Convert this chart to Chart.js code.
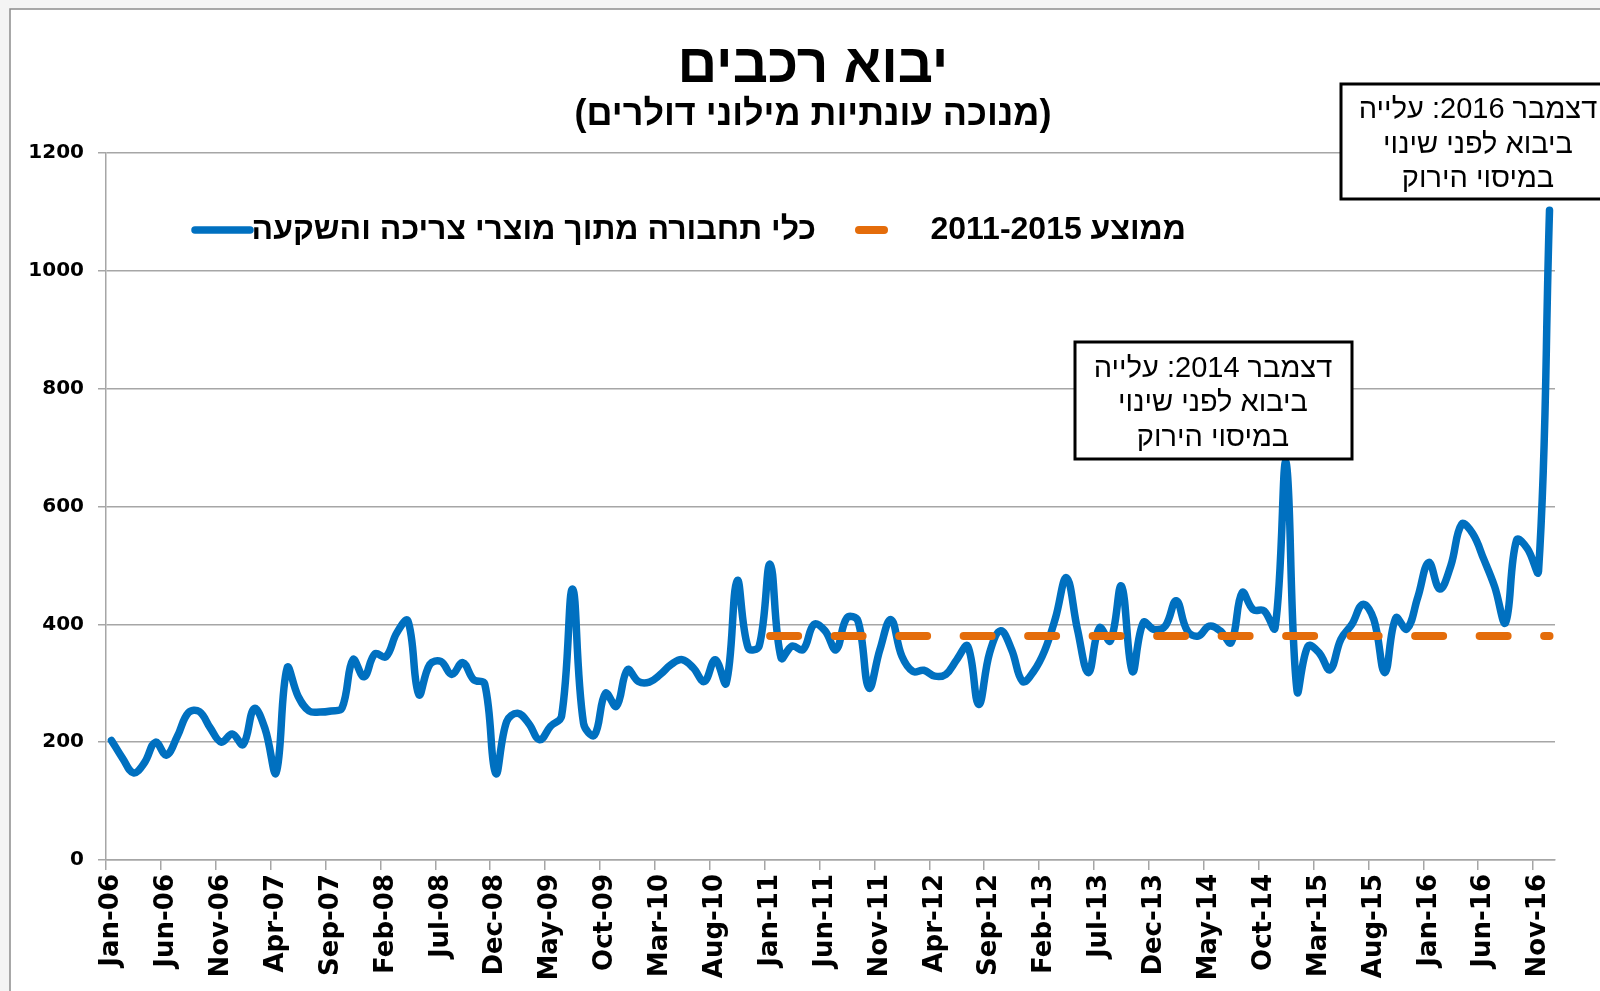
<!DOCTYPE html>
<html>
<head>
<meta charset="utf-8">
<script src="https://cdn.jsdelivr.net/npm/chart.js@4.4.1/dist/chart.umd.min.js"></script>
<style>
html,body{margin:0;padding:0;background:#fff;}
#wrap{position:relative;width:1600px;height:991px;overflow:hidden;}
canvas{display:block;}
</style>
</head>
<body>
<div id="wrap"><canvas id="c" width="1600" height="991"></canvas></div>
<script>
// ---------- DATA ----------
const monthNames = ['Jan','Feb','Mar','Apr','May','Jun','Jul','Aug','Sep','Oct','Nov','Dec'];
const yearSuffixes = ['06','07','08','09','10','11','12','13','14','15','16'];
const categories = [];
for (const y of yearSuffixes) for (const m of monthNames) categories.push(m + '-' + y);

// Monthly vehicle imports, seasonally adjusted, $ millions (Jan-06 .. Dec-16)
const importValues = [
  203,173,148,165,200,178,210,250,252,224,200,214,   // 2006
  196,257,222,148,326,278,253,251,253,258,340,311,   // 2007
  350,345,386,406,281,332,337,315,335,306,299,147,   // 2008
  235,249,232,204,227,244,460,232,212,283,261,323,   // 2009
  303,302,315,332,340,326,303,340,300,474,360,363,   // 2010
  502,343,363,357,400,389,357,411,406,292,357,408,   // 2011
  346,320,322,312,315,340,363,264,352,389,357,303,   // 2012
  320,355,411,479,391,318,394,372,465,320,403,391,   // 2013
  397,440,389,380,397,389,369,454,425,423,394,675,   // 2014
  287,363,352,323,375,400,434,408,318,411,392,446,   // 2015
  505,460,499,570,554,511,464,403,543,528,490,1103   // 2016
];

const avgValue = 380;          // 2011-2015 average
const avgStart = 'Jan-11';
const avgEnd = 'Dec-16';

const yTickValues = [0, 200, 400, 600, 800, 1000, 1200];

const titleText = 'יבוא רכבים';
const subtitleText = '(מנוכה עונתיות מילוני דולרים)';
const seriesLabels = ['כלי תחבורה מתוך מוצרי צריכה והשקעה', 'ממוצע 2011-2015'];
const noteLines2014 = ['דצמבר 2014: עלייה', 'ביבוא לפני שינוי', 'במיסוי הירוק'];
const noteLines2016 = ['דצמבר 2016: עלייה', 'ביבוא לפני שינוי', 'במיסוי הירוק'];

// ---------- STYLE ----------
const BLUE = '#0070C0';
const ORANGE = '#E46C0A';
const GRID = '#A6A6A6';
const HEB = '"Liberation Sans", Arial, sans-serif';
const AX = '"DejaVu Sans", Verdana, sans-serif';

const decorPlugin = {
  id: 'decor',
  beforeDraw(chart) {
    const ctx = chart.ctx;
    ctx.save();
    ctx.fillStyle = '#f4f4f4';
    ctx.fillRect(0, 0, chart.width, chart.height);
    ctx.fillStyle = '#ffffff';
    ctx.fillRect(10, 9, chart.width, chart.height);
    ctx.strokeStyle = '#8c8c8c';
    ctx.lineWidth = 1.5;
    ctx.beginPath();
    ctx.moveTo(10, chart.height);
    ctx.lineTo(10, 9);
    ctx.lineTo(chart.width, 9);
    ctx.stroke();
    ctx.restore();
  },
  afterDraw(chart) {
    const ctx = chart.ctx;
    ctx.save();
    ctx.direction = 'rtl';
    ctx.fillStyle = '#000';
    ctx.textAlign = 'center';
    ctx.textBaseline = 'alphabetic';
    // title
    ctx.font = 'bold 55px ' + HEB;
    ctx.fillText(titleText, 813, 82);
    ctx.font = 'bold 36px ' + HEB;
    ctx.fillText(subtitleText, 813, 125);

    // legend
    const ly = 230;
    ctx.lineCap = 'round';
    ctx.strokeStyle = BLUE;
    ctx.lineWidth = 7.5;
    ctx.beginPath(); ctx.moveTo(195, ly); ctx.lineTo(250, ly); ctx.stroke();
    ctx.strokeStyle = ORANGE;
    ctx.lineWidth = 8;
    ctx.beginPath(); ctx.moveTo(859, ly); ctx.lineTo(884, ly); ctx.stroke();
    ctx.font = 'bold 32px ' + HEB;
    ctx.textAlign = 'right';
    ctx.textBaseline = 'middle';
    ctx.fillText(seriesLabels[0], 816, ly);
    ctx.fillText(seriesLabels[1], 1186, ly);

    // annotation boxes
    const drawNote = (x0, y0, x1, y1, lines, cx, ys) => {
      ctx.fillStyle = '#fff';
      ctx.fillRect(x0, y0, x1 - x0, y1 - y0);
      ctx.strokeStyle = '#000';
      ctx.lineWidth = 3;
      ctx.lineCap = 'butt';
      ctx.strokeRect(x0, y0, x1 - x0, y1 - y0);
      ctx.fillStyle = '#000';
      ctx.font = '29px ' + HEB;
      ctx.textAlign = 'center';
      ctx.textBaseline = 'middle';
      lines.forEach((t, k) => ctx.fillText(t, cx, ys[k]));
    };
    drawNote(1075, 342, 1352, 459, noteLines2014, 1213, [369, 403, 438]);
    drawNote(1341, 84, 1620, 199, noteLines2016, 1478, [110, 145, 179]);
    ctx.restore();
  }
};

new Chart(document.getElementById('c'), {
  type: 'line',
  data: {
    labels: categories,
    datasets: [
      {
        label: seriesLabels[0],
        data: importValues,
        borderColor: BLUE,
        borderWidth: 7.5,
        pointRadius: 0,
        tension: 0.4,
        fill: false,
        borderCapStyle: 'round',
        borderJoinStyle: 'round',
        order: 2
      },
      {
        label: seriesLabels[1],
        data: [{x: avgStart, y: avgValue}, {x: avgEnd, y: avgValue}],
        borderColor: ORANGE,
        borderWidth: 8,
        borderDash: [28, 36.5],
        borderCapStyle: 'round',
        pointRadius: 0,
        tension: 0,
        fill: false,
        order: 1
      }
    ]
  },
  options: {
    responsive: false,
    devicePixelRatio: 1,
    animation: false,
    layout: { padding: { left: 0, right: 45, top: 153, bottom: 0 } },
    plugins: {
      legend: { display: false },
      title: { display: false },
      tooltip: { enabled: false }
    },
    scales: {
      x: {
        type: 'category',
        offset: true,
        grid: {
          offset: true,
          drawOnChartArea: false,
          drawTicks: true,
          tickLength: 10,
          lineWidth: 1.5,
          color: (c) => (c.index !== undefined && c.index % 5 === 0) ? GRID : 'rgba(0,0,0,0)'
        },
        border: { color: GRID, width: 1.5 },
        ticks: {
          autoSkip: false,
          maxRotation: 90,
          minRotation: 90,
          padding: 4,
          color: '#000',
          font: { family: AX, weight: 'bold', size: 26 },
          callback: (v, i) => (i % 5 === 0 ? categories[i] : '')
        },
        afterFit: (s) => { s.height = 131; }
      },
      y: {
        min: 0,
        max: 1200,
        afterBuildTicks: (s) => { s.ticks = yTickValues.map(v => ({ value: v })); },
        grid: { color: GRID, lineWidth: 1.5, tickLength: 8 },
        border: { color: GRID, width: 1.5 },
        ticks: {
          padding: 14,
          color: '#000',
          font: { family: AX, weight: 'bold', size: 20 },
          callback: (v) => String(v)
        },
        afterFit: (s) => { s.width = 106; }
      }
    }
  },
  plugins: [decorPlugin]
});
</script>
</body>
</html>
